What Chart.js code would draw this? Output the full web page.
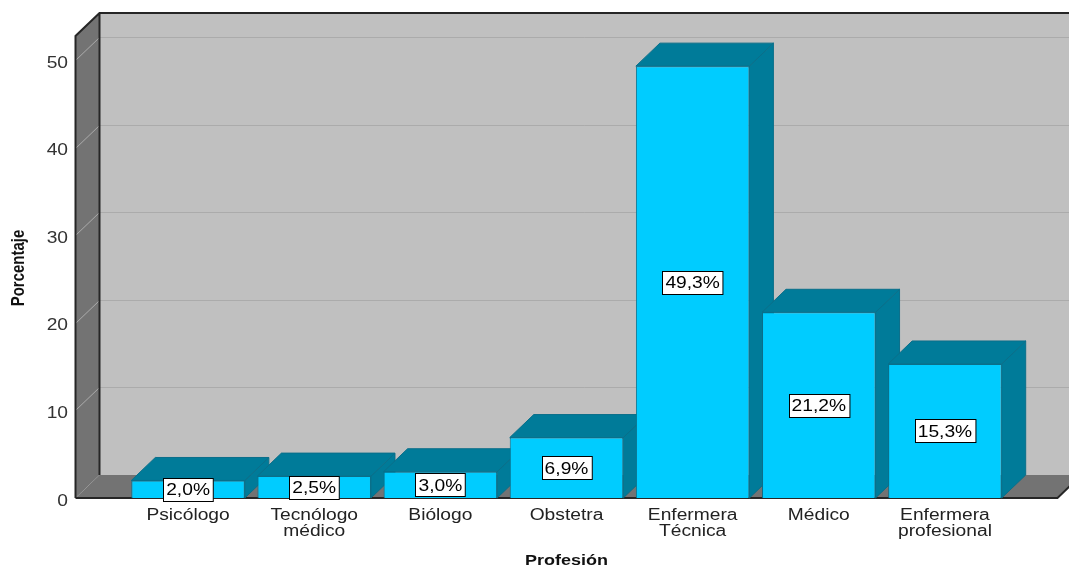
<!DOCTYPE html>
<html>
<head>
<meta charset="utf-8">
<script src="https://cdn.jsdelivr.net/npm/chart.js@4/dist/chart.umd.min.js"></script>
<style>
  html, body { margin: 0; padding: 0; background: #fff; }
  #wrap { width: 1069px; height: 566px; position: relative; }
</style>
</head>
<body>
<div id="wrap"><canvas id="grafico"></canvas></div>
<script>
// datos
var profesiones = [['Psicólogo'], ['Tecnólogo', 'médico'], ['Biólogo'], ['Obstetra'],
                   ['Enfermera', 'Técnica'], ['Médico'], ['Enfermera', 'profesional']];
var porcentajes = [2.0, 2.5, 3.0, 6.9, 49.3, 21.2, 15.3];
var etiquetas = ['2,0%', '2,5%', '3,0%', '6,9%', '49,3%', '21,2%', '15,3%'];
var marcasY = [0, 10, 20, 30, 40, 50];

var FRENTE = '#00CCFF';
var OSCURO = '#007B99';
var BORDE = '#0A6F8A';
var PARED = '#C0C0C0';
var LADO = '#737373';
var REJILLA = '#ABABAB';
var PROF_X = 24, PROF_Y = -23;   // profundidad 3D
var MARGEN = 49.5;               // piso sobresale a los lados
var ESTIRA = 1.2;                // texto ensanchado

function texto(ctx, t, x, y, align, font, color){
	ctx.save();
	ctx.translate(x, y);
	ctx.scale(ESTIRA, 1);
	ctx.font = font;
	ctx.fillStyle = color;
	ctx.textAlign = align;
	ctx.textBaseline = 'alphabetic';
	ctx.fillText(t, 0, 0);
	ctx.restore();
}

function poligono(ctx, pts, fill, stroke, lw){
	ctx.beginPath();
	ctx.moveTo(pts[0][0], pts[0][1]);
	for(var i=1;i<pts.length;i++) ctx.lineTo(pts[i][0], pts[i][1]);
	ctx.closePath();
	if(fill){ ctx.fillStyle = fill; ctx.fill(); }
	if(stroke){ ctx.strokeStyle = stroke; ctx.lineWidth = lw || 1; ctx.stroke(); }
}

// paredes, piso y barras en 3D (caras laterales y superiores)
var caja3d = {
	id: 'caja3d',
	beforeDatasetsDraw: function(chart){
		var ctx = chart.ctx;
		var a = chart.chartArea;
		var y = chart.scales.y;
		var x0 = a.left - MARGEN, x1 = a.right + MARGEN;
		var top = a.top, bot = a.bottom;
		ctx.save();
		// pared del fondo
		poligono(ctx, [[x0+PROF_X, top+PROF_Y], [x1+PROF_X, top+PROF_Y], [x1+PROF_X, bot+PROF_Y], [x0+PROF_X, bot+PROF_Y]], PARED);
		// pared izquierda
		poligono(ctx, [[x0, top], [x0+PROF_X, top+PROF_Y], [x0+PROF_X, bot+PROF_Y], [x0, bot]], LADO);
		// piso
		poligono(ctx, [[x0, bot], [x0+PROF_X, bot+PROF_Y], [x1+PROF_X, bot+PROF_Y], [x1, bot]], LADO);

		// rejilla
		ctx.lineWidth = 1;
		ctx.strokeStyle = REJILLA;
		marcasY.forEach(function(v){
			if(v === 0) return;
			var py = Math.round(y.getPixelForValue(v)) + 0.5;
			ctx.beginPath();
			ctx.moveTo(x0, py);
			ctx.lineTo(x0+PROF_X, py+PROF_Y);
			ctx.lineTo(x1+PROF_X, py+PROF_Y);
			ctx.stroke();
		});

		// bordes oscuros
		ctx.strokeStyle = '#262626';
		ctx.lineWidth = 2;
		ctx.beginPath();
		ctx.moveTo(x0, bot);
		ctx.lineTo(x0, top);
		ctx.lineTo(x0+PROF_X, top+PROF_Y);
		ctx.lineTo(x1+PROF_X, top+PROF_Y);
		ctx.moveTo(x0+PROF_X, top+PROF_Y);
		ctx.lineTo(x0+PROF_X, bot+PROF_Y);
		ctx.moveTo(x0, bot);
		ctx.lineTo(x1, bot);
		ctx.lineTo(x1+PROF_X, bot+PROF_Y);
		ctx.stroke();

		// cara superior y lateral de cada barra
		var meta = chart.getDatasetMeta(0);
		meta.data.forEach(function(b){
			var p = b.getProps(['x', 'y', 'base', 'width'], true);
			var L = p.x - p.width/2, R = p.x + p.width/2, T = p.y, B = p.base;
			poligono(ctx, [[R, T], [R+PROF_X, T+PROF_Y], [R+PROF_X, B+PROF_Y], [R, B]], OSCURO, BORDE, 1);
			poligono(ctx, [[L, T], [L+PROF_X, T+PROF_Y], [R+PROF_X, T+PROF_Y], [R, T]], OSCURO, BORDE, 1);
		});
		ctx.restore();
	},
	afterDatasetsDraw: function(chart){
		var ctx = chart.ctx;
		var a = chart.chartArea;
		var y = chart.scales.y, x = chart.scales.x;
		var fuente = '16px "Liberation Sans", Arial, sans-serif';
		ctx.save();

		// etiquetas de valor
		var meta = chart.getDatasetMeta(0);
		meta.data.forEach(function(b, i){
			var p = b.getProps(['x', 'y', 'base'], true);
			var cy = (p.y + p.base) / 2;
			ctx.font = fuente;
			var w = ctx.measureText(etiquetas[i]).width * ESTIRA + 6;
			var h = 23;
			var bx = Math.round(p.x - w/2) + 0.5, by = Math.round(cy - h/2) + 0.5;
			ctx.fillStyle = '#fff';
			ctx.fillRect(bx, by, w, h);
			ctx.strokeStyle = '#000';
			ctx.lineWidth = 1;
			ctx.strokeRect(bx, by, w, h);
			texto(ctx, etiquetas[i], p.x, cy + 6, 'center', fuente, '#000');
		});

		// marcas del eje Y
		marcasY.forEach(function(v){
			texto(ctx, String(v), 68, y.getPixelForValue(v) + 7.5, 'right', fuente, '#333');
		});

		// categorías
		profesiones.forEach(function(lineas, i){
			var px = x.getPixelForValue(i);
			lineas.forEach(function(t, j){
				texto(ctx, t, px, a.bottom + 21.5 + j*16, 'center', fuente, '#222');
			});
		});

		// títulos de ejes
		var negrita = 'bold 15px "Liberation Sans", Arial, sans-serif';
		texto(ctx, 'Profesión', (a.left + a.right)/2 + 0, 565, 'center', negrita, '#111');
		ctx.save();
		ctx.translate(24, (a.top + a.bottom)/2 + 1);
		ctx.scale(ESTIRA, 1);
		ctx.rotate(-Math.PI/2);
		ctx.font = negrita;
		ctx.fillStyle = '#111';
		ctx.textAlign = 'center';
		ctx.fillText('Porcentaje', 0, 0);
		ctx.restore();

		ctx.restore();
	}
};

var ctx = document.getElementById('grafico').getContext('2d');
var grafico = new Chart(ctx, {
	type: 'bar',
	data: {
		labels: profesiones,
		datasets: [{
			label: 'Porcentaje',
			data: porcentajes,
			backgroundColor: FRENTE,
			borderColor: BORDE,
			borderWidth: 1,
			categoryPercentage: 1.0,
			barPercentage: 0.9
		}]
	},
	options: {
		responsive: true,
		maintainAspectRatio: false,
		animation: false,
		events: [],
		layout: { padding: { top: 36, right: 61, left: 0, bottom: 0 } },
		plugins: {
			legend: { display: false },
			tooltip: { enabled: false }
		},
		scales: {
			x: {
				offset: true,
				grid: { display: false },
				border: { display: false },
				ticks: { display: false },
				afterFit: function(s){ s.height = 68; }
			},
			y: {
				min: 0,
				max: 52.74,
				grid: { display: false },
				border: { display: false },
				ticks: { display: false, stepSize: 10 },
				afterFit: function(s){ s.width = 125; }
			}
		}
	},
	plugins: [caja3d]
});
</script>
</body>
</html>
